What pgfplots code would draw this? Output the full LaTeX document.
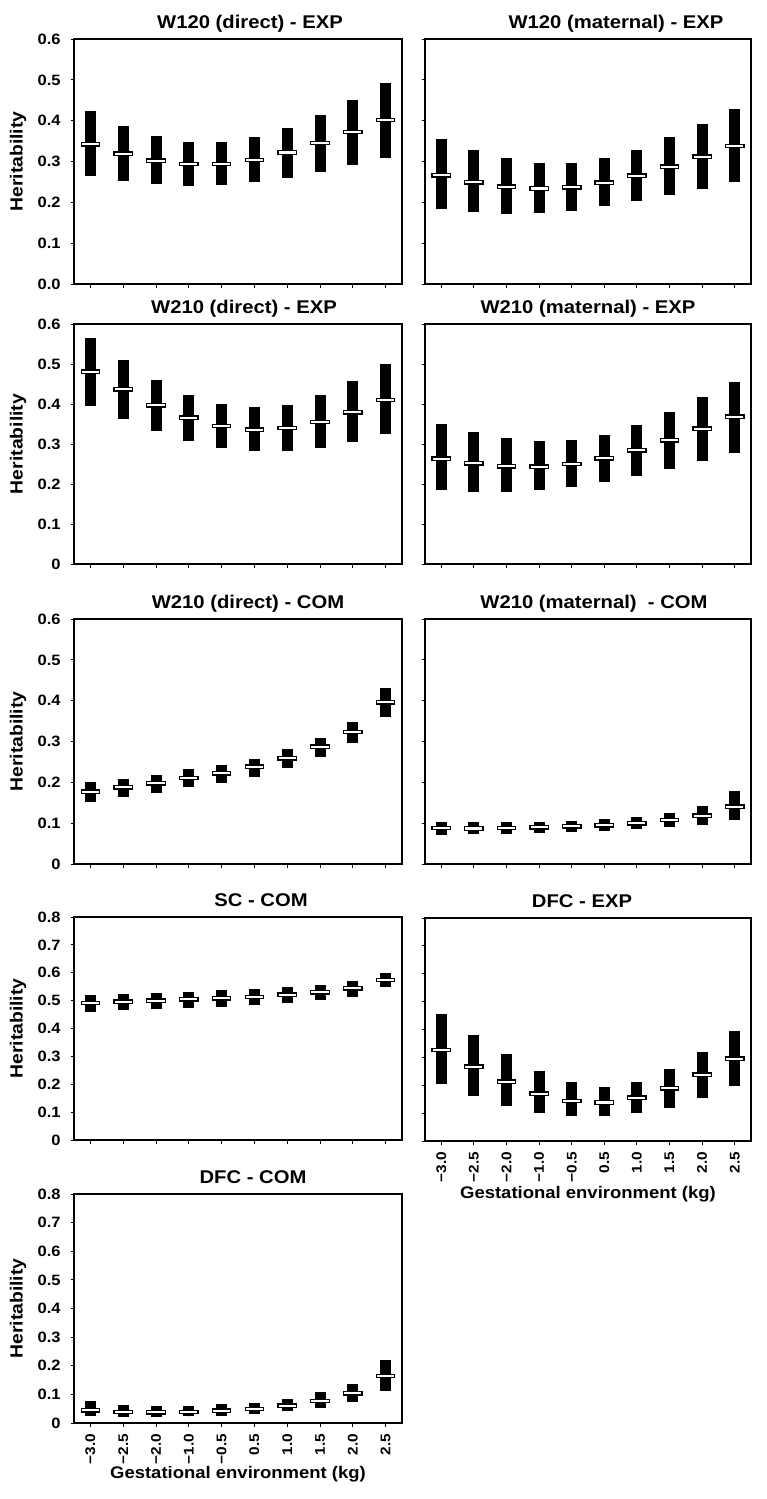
\documentclass[border=0pt]{standalone}
\usepackage{fontspec}
\setmainfont{Liberation Sans}[FakeStretch=1.1]
\usepackage{pgfplots}
\usepackage{pgfplotstable}
\pgfplotsset{compat=1.18}

\pgfdeclareplotmark{meanbox}{%
  \pgfpathrectangle{\pgfqpoint{-4.6pt}{-0.85pt}}{\pgfqpoint{9.2pt}{1.7pt}}%
  \pgfusepathqfillstroke}

% W120 (direct) - EXP
\pgfplotstableread{
x m lo hi
0 0.342 0.265 0.424
1 0.319 0.253 0.388
2 0.302 0.245 0.363
3 0.294 0.240 0.348
4 0.294 0.242 0.348
5 0.304 0.249 0.360
6 0.322 0.260 0.383
7 0.345 0.275 0.413
8 0.372 0.291 0.451
9 0.402 0.308 0.493
}\tA
% W120 (maternal) - EXP
\pgfplotstableread{
x m lo hi
0 0.266 0.183 0.356
1 0.249 0.176 0.328
2 0.238 0.172 0.309
3 0.234 0.173 0.297
4 0.237 0.179 0.297
5 0.248 0.190 0.308
6 0.265 0.203 0.329
7 0.287 0.218 0.359
8 0.312 0.233 0.393
9 0.338 0.250 0.428
}\tB
% W210 (direct) - EXP
\pgfplotstableread{
x m lo hi
0 0.481 0.396 0.564
1 0.437 0.362 0.509
2 0.397 0.332 0.459
3 0.366 0.307 0.423
4 0.345 0.290 0.400
5 0.336 0.282 0.392
6 0.340 0.282 0.398
7 0.355 0.290 0.422
8 0.379 0.305 0.457
9 0.410 0.326 0.500
}\tC
% W210 (maternal) - EXP
\pgfplotstableread{
x m lo hi
0 0.263 0.185 0.351
1 0.252 0.180 0.329
2 0.244 0.180 0.314
3 0.243 0.186 0.307
4 0.250 0.193 0.309
5 0.264 0.206 0.323
6 0.284 0.221 0.348
7 0.309 0.238 0.381
8 0.338 0.257 0.418
9 0.368 0.278 0.454
}\tD
% W210 (direct) - COM
\pgfplotstableread{
x m lo hi
0 0.177 0.153 0.201
1 0.188 0.164 0.208
2 0.198 0.174 0.218
3 0.211 0.189 0.232
4 0.222 0.199 0.242
5 0.238 0.214 0.257
6 0.259 0.235 0.281
7 0.287 0.263 0.308
8 0.323 0.296 0.348
9 0.396 0.359 0.431
}\tE
% W210 (maternal) - COM
\pgfplotstableread{
x m lo hi
0 0.088 0.072 0.103
1 0.087 0.073 0.102
2 0.088 0.074 0.103
3 0.090 0.076 0.104
4 0.092 0.078 0.106
5 0.095 0.081 0.110
6 0.100 0.086 0.116
7 0.108 0.090 0.126
8 0.118 0.096 0.142
9 0.140 0.109 0.178
}\tF
% SC - COM
\pgfplotstableread{
x m lo hi
0 0.492 0.461 0.521
1 0.496 0.467 0.524
2 0.500 0.470 0.527
3 0.505 0.474 0.532
4 0.508 0.478 0.537
5 0.513 0.484 0.542
6 0.521 0.492 0.548
7 0.530 0.501 0.556
8 0.544 0.514 0.571
9 0.574 0.548 0.600
}\tG
% DFC - EXP
\pgfplotstableread{
x m lo hi
0 0.326 0.205 0.457
1 0.267 0.160 0.382
2 0.213 0.126 0.313
3 0.170 0.101 0.251
4 0.144 0.088 0.211
5 0.138 0.088 0.195
6 0.155 0.100 0.211
7 0.189 0.120 0.257
8 0.238 0.156 0.320
9 0.295 0.196 0.394
}\tH
% DFC - COM
\pgfplotstableread{
x m lo hi
0 0.044 0.026 0.078
1 0.039 0.022 0.064
2 0.037 0.022 0.060
3 0.039 0.023 0.061
4 0.043 0.026 0.065
5 0.049 0.032 0.071
6 0.060 0.041 0.084
7 0.077 0.054 0.107
8 0.104 0.073 0.136
9 0.164 0.112 0.219
}\tI

\pgfplotsset{
  every axis title shift=0pt,
  hpanel/.style={
    scale only axis,
    xmin=-0.5, xmax=9.5, ymin=0,
    xtick={0,...,9}, xticklabels={},
    tick align=outside, xtick pos=bottom, ytick pos=left,
    major tick length=1.75pt,
    every tick/.style={black, line width=0.5pt},
    axis line style={line width=0.6pt, black},
    title style={font=\fontsize{9.2}{11}\selectfont\bfseries, anchor=base, at={(0.5,1)}, yshift=5.5pt},
    yticklabel style={font=\fontsize{7.5}{9}\selectfont\bfseries, anchor=east, inner sep=0pt},
    yticklabel shift=4.75pt,
    xticklabel style={font=\fontsize{7}{8}\selectfont\bfseries, rotate=90, anchor=east, inner sep=0pt},
    xticklabel shift=3.6pt,
    ylabel style={font=\fontsize{8.8}{10}\selectfont\bfseries, at={(axis description cs:-0.1707,0.5)}, anchor=center},
    xlabel style={font=\fontsize{8.4}{10}\selectfont\bfseries, anchor=base},
  },
  lowy/.style={ymax=0.6, ytick={0,0.1,0.2,0.3,0.4,0.5,0.6}},
  highy/.style={ymax=0.8, ytick={0,0.1,0.2,0.3,0.4,0.5,0.6,0.7,0.8}},
  leftcol/.style={width=164pt, ylabel={Heritability}},
  rightcol/.style={width=163pt, yticklabels={}},
  bottomx/.style={xticklabels={−3.0,−2.5,−2.0,−1.0,−0.5,0.5,1.0,1.5,2.0,2.5}, xlabel={Gestational environment (kg)}},
}

\newcommand{\drawpanel}[1]{%
  \addplot[only marks, mark=none, black,
    error bars/.cd, y dir=both, y explicit, error mark=none,
    error bar style={line width=5.5pt, black}]
    table[x=x, y=m, y error plus expr=\thisrow{hi}-\thisrow{m}, y error minus expr=\thisrow{m}-\thisrow{lo}] {#1};
  \addplot[only marks, mark=meanbox, mark options={fill=white, draw=black, line width=0.65pt}]
    table[x=x, y=m] {#1};
}

\begin{document}
\begin{tikzpicture}
\path[use as bounding box] (0pt,0pt) rectangle (383pt,-749.5pt);

% Row 1
\begin{axis}[hpanel, lowy, leftcol, height=122.5pt, at={(37pt,-142pt)}, anchor=south west,
  yticklabels={0.0,0.1,0.2,0.3,0.4,0.5,0.6},
  title={W120 (direct) - EXP}, title style={xshift=6pt}]
\drawpanel{\tA}
\end{axis}
\begin{axis}[hpanel, lowy, rightcol, height=122.5pt, at={(212.5pt,-142pt)}, anchor=south west,
  title={W120 (maternal) - EXP}, title style={xshift=14pt}]
\drawpanel{\tB}
\end{axis}

% Row 2
\begin{axis}[hpanel, lowy, leftcol, height=120pt, at={(37pt,-282pt)}, anchor=south west,
  yticklabels={0,0.1,0.2,0.3,0.4,0.5,0.6},
  title={W210 (direct) - EXP}, title style={xshift=3pt}]
\drawpanel{\tC}
\end{axis}
\begin{axis}[hpanel, lowy, rightcol, height=120pt, at={(212.5pt,-282pt)}, anchor=south west,
  title={W210 (maternal) - EXP}]
\drawpanel{\tD}
\end{axis}

% Row 3
\begin{axis}[hpanel, lowy, leftcol, height=122.5pt, at={(37pt,-432pt)}, anchor=south west,
  yticklabels={0,0.1,0.2,0.3,0.4,0.5,0.6},
  title={W210 (direct) - COM}, title style={xshift=5pt}]
\drawpanel{\tE}
\end{axis}
\begin{axis}[hpanel, lowy, rightcol, height=122.5pt, at={(212.5pt,-432pt)}, anchor=south west,
  title={W210 (maternal)\ \ - COM}, title style={xshift=3pt}]
\drawpanel{\tF}
\end{axis}

% Row 4
\begin{axis}[hpanel, highy, leftcol, height=111.5pt, at={(37pt,-570pt)}, anchor=south west,
  yticklabels={0,0.1,0.2,0.3,0.4,0.5,0.6,0.7,0.8},
  title={SC - COM}, title style={xshift=11.5pt}]
\drawpanel{\tG}
\end{axis}
\begin{axis}[hpanel, highy, rightcol, bottomx, height=111.5pt, at={(212.5pt,-570.5pt)}, anchor=south west,
  xlabel style={at={(axis description cs:0.5,-0.259)}},
  title={DFC - EXP}, title style={xshift=-3pt}]
\drawpanel{\tH}
\end{axis}

% Row 5
\begin{axis}[hpanel, highy, leftcol, bottomx, height=114.5pt, at={(37pt,-711.5pt)}, anchor=south west,
  yticklabels={0,0.1,0.2,0.3,0.4,0.5,0.6,0.7,0.8},
  xlabel style={at={(axis description cs:0.5,-0.244)}},
  title={DFC - COM}, title style={xshift=7.5pt}]
\drawpanel{\tI}
\end{axis}
\end{tikzpicture}
\end{document}
